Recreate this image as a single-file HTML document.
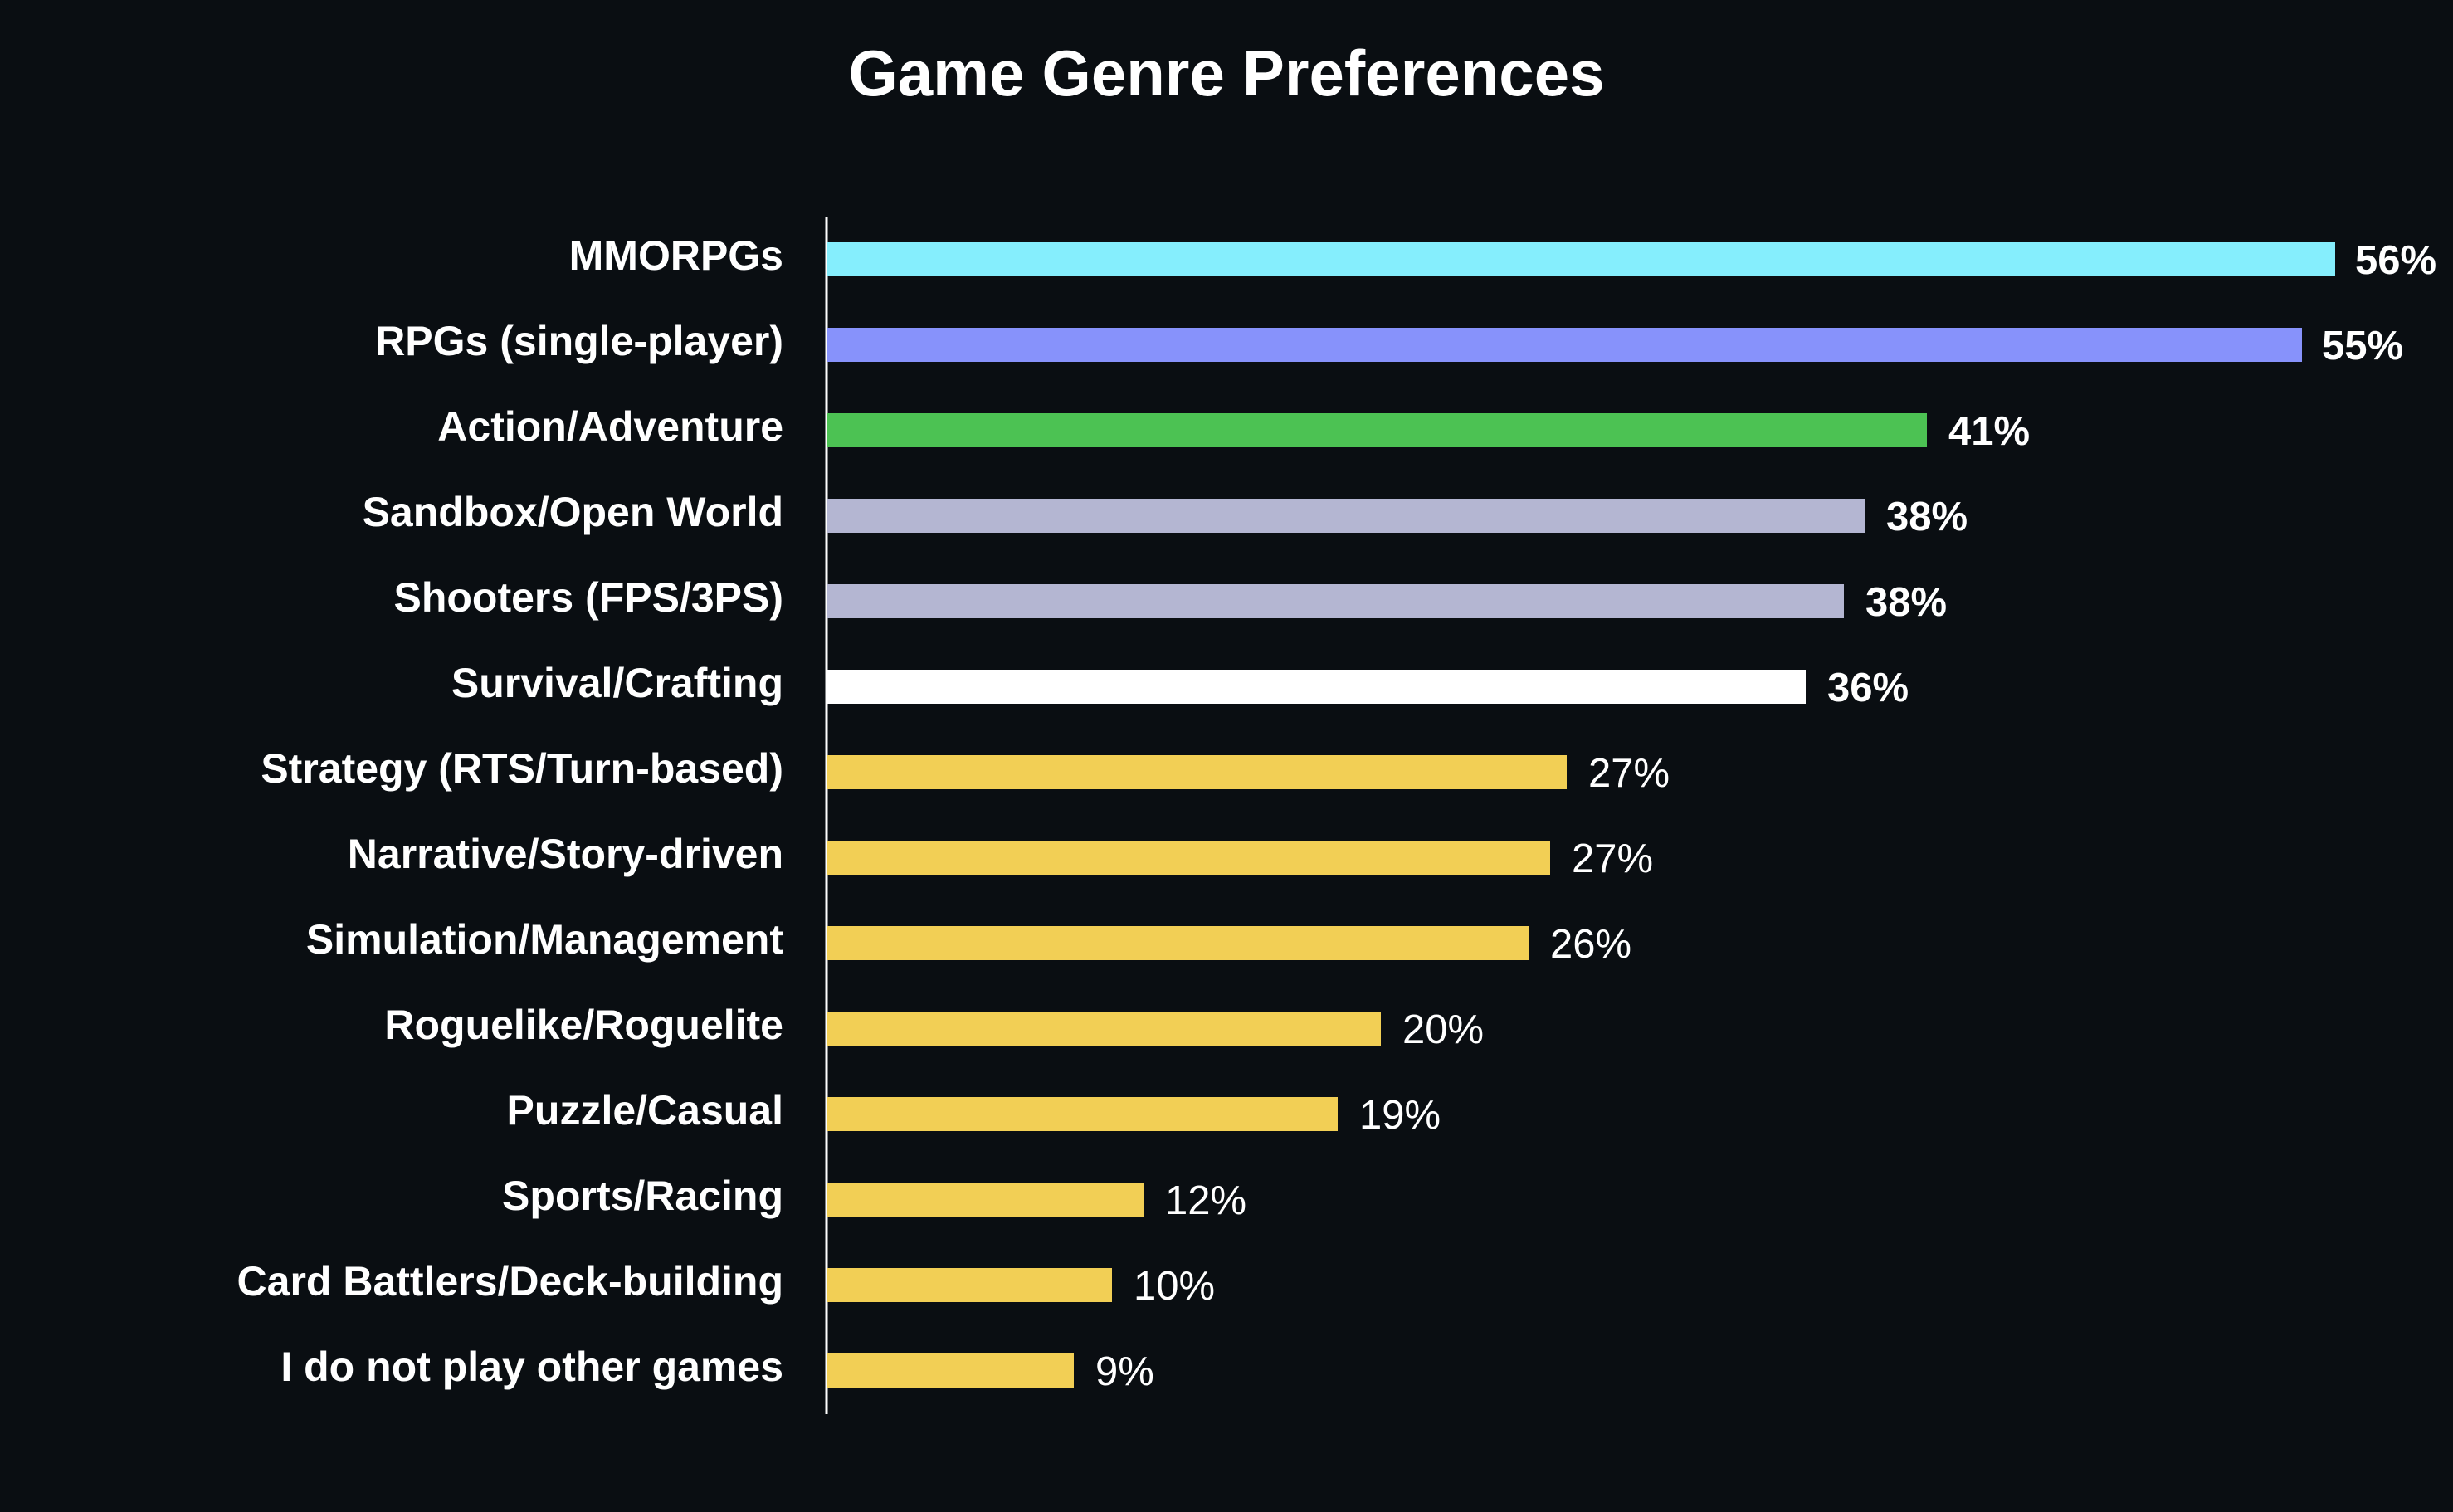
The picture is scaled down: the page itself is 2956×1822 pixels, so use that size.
<!DOCTYPE html>
<html><head><meta charset="utf-8"><style>
html,body{margin:0;padding:0;background:#0a0e12;}
svg{display:block;}
text{font-family:"Liberation Sans",sans-serif;fill:#fff;}
</style></head><body>
<svg width="2956" height="1822" viewBox="0 0 2956 1822" xmlns="http://www.w3.org/2000/svg">
<rect width="2956" height="1822" fill="#0a0e12"/>
<text x="1478" y="115" text-anchor="middle" font-size="78" font-weight="bold" textLength="911" lengthAdjust="spacingAndGlyphs">Game Genre Preferences</text>
<line x1="996" y1="261" x2="996" y2="1704" stroke="#fff" stroke-width="3"/>
<g font-size="49">
<g font-weight="bold" font-size="50" text-anchor="end">
<text x="944" y="325">MMORPGs</text>
<text x="944" y="428">RPGs (single-player)</text>
<text x="944" y="531">Action/Adventure</text>
<text x="944" y="634">Sandbox/Open World</text>
<text x="944" y="737">Shooters (FPS/3PS)</text>
<text x="944" y="840">Survival/Crafting</text>
<text x="944" y="943">Strategy (RTS/Turn-based)</text>
<text x="944" y="1046">Narrative/Story-driven</text>
<text x="944" y="1149">Simulation/Management</text>
<text x="944" y="1252">Roguelike/Roguelite</text>
<text x="944" y="1355">Puzzle/Casual</text>
<text x="944" y="1458">Sports/Racing</text>
<text x="944" y="1561">Card Battlers/Deck-building</text>
<text x="944" y="1664">I do not play other games</text>
</g>
<rect x="997" y="292" width="1817" height="41" fill="#85eefd"/>
<text x="2838" y="330" font-weight="bold">56%</text>
<rect x="997" y="395" width="1777" height="41" fill="#8792fb"/>
<text x="2798" y="433" font-weight="bold">55%</text>
<rect x="997" y="498" width="1325" height="41" fill="#4cc253"/>
<text x="2348" y="536" font-weight="bold">41%</text>
<rect x="997" y="601" width="1250" height="41" fill="#b4b6d2"/>
<text x="2273" y="639" font-weight="bold">38%</text>
<rect x="997" y="704" width="1225" height="41" fill="#b4b6d2"/>
<text x="2248" y="742" font-weight="bold">38%</text>
<rect x="997" y="807" width="1179" height="41" fill="#ffffff"/>
<text x="2202" y="845" font-weight="bold">36%</text>
<rect x="997" y="910" width="891" height="41" fill="#f2cf55"/>
<text x="1914" y="948">27%</text>
<rect x="997" y="1013" width="871" height="41" fill="#f2cf55"/>
<text x="1894" y="1051">27%</text>
<rect x="997" y="1116" width="845" height="41" fill="#f2cf55"/>
<text x="1868" y="1154">26%</text>
<rect x="997" y="1219" width="667" height="41" fill="#f2cf55"/>
<text x="1690" y="1257">20%</text>
<rect x="997" y="1322" width="615" height="41" fill="#f2cf55"/>
<text x="1638" y="1360">19%</text>
<rect x="997" y="1425" width="381" height="41" fill="#f2cf55"/>
<text x="1404" y="1463">12%</text>
<rect x="997" y="1528" width="343" height="41" fill="#f2cf55"/>
<text x="1366" y="1566">10%</text>
<rect x="997" y="1631" width="297" height="41" fill="#f2cf55"/>
<text x="1320" y="1669">9%</text>
</g>
</svg>
</body></html>
